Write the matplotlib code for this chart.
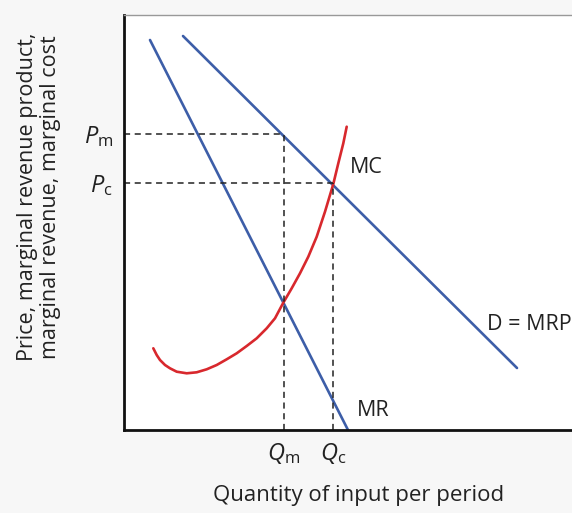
"""Monopsony-style input market: MRP, MR, MC with Pm/Pc and Qm/Qc guides."""

import matplotlib

matplotlib.use("Agg")
import matplotlib.pyplot as plt  # noqa: E402

# values (axis units: quantity right, price up)
mr_x = [26, 224]
mr_y = [390, 0]
d_x = [59, 393]
d_y = [394, 62]
mc_x = [29.3, 32.7, 36.0, 41.0, 46.0, 52.7, 62.7, 72.7, 82.7, 92.7, 102.7,
        112.7, 122.7, 132.7, 142.7, 151.0, 159.3, 167.7, 176.0, 184.3,
        192.7, 201.0, 209.3, 214.3, 219.3, 222.7]
mc_y = [81.7, 75.0, 70.0, 65.0, 61.7, 58.3, 56.7, 57.7, 60.7, 65.0, 70.7,
        76.7, 84.0, 91.7, 101.7, 111.7, 127.3, 141.7, 156.7, 173.3,
        193.3, 218.3, 246.0, 266.7, 286.7, 303.3]
p_m, p_c = 296, 247
q_m, q_c = 160, 209
y_ticks = [p_m, p_c]
y_labels = [r"$P_\mathrm{m}$", r"$P_\mathrm{c}$"]
x_ticks = [q_m, q_c]
x_labels = [r"$Q_\mathrm{m}$", r"$Q_\mathrm{c}$"]

BLUE = "#3d5ea8"
RED = "#d8282d"
FONT = "Open Sans"

plt.rcParams["font.family"] = [FONT, "DejaVu Sans"]
plt.rcParams["mathtext.fontset"] = "custom"
plt.rcParams["mathtext.rm"] = FONT
plt.rcParams["mathtext.it"] = f"{FONT}:italic"

fig = plt.figure(figsize=(5.72, 5.13), dpi=100, facecolor="#f7f7f7")
ax = fig.add_axes([124 / 572, 83 / 513, 1 - 124 / 572, 415 / 513])
ax.set_facecolor("white")
ax.set_xlim(0, 448)
ax.set_ylim(0, 415)

ax.plot(mr_x, mr_y, color=BLUE, lw=1.9, solid_capstyle="round")
ax.plot(d_x, d_y, color=BLUE, lw=1.9, solid_capstyle="round")
ax.plot(mc_x, mc_y, color=RED, lw=1.9, solid_capstyle="round",
        solid_joinstyle="round")

dash = dict(color="#222222", lw=1.1, ls=(0, (4, 3)))
ax.plot([0, q_m], [p_m, p_m], **dash)
ax.plot([q_m, q_m], [0, p_m], **dash)
ax.plot([0, q_c], [p_c, p_c], **dash)
ax.plot([q_c, q_c], [0, p_c], **dash)

ax.text(226, 262, "MC", fontsize=15.5, va="center", ha="left", color="#222222")
ax.text(363, 106, "D = MRP", fontsize=15.5, va="center", ha="left", color="#222222")
ax.text(233, 19, "MR", fontsize=15.5, va="center", ha="left", color="#222222")

ax.set_yticks(y_ticks)
ax.set_yticklabels(y_labels, fontsize=17)
ax.set_xticks(x_ticks)
ax.set_xticklabels(x_labels, fontsize=17)
ax.tick_params(length=0, pad=8, labelcolor="#222222")

for side in ("left", "bottom"):
    ax.spines[side].set_linewidth(2)
    ax.spines[side].set_color("#111111")
ax.spines["top"].set_color("#999999")
ax.spines["top"].set_linewidth(1)
ax.spines["right"].set_visible(False)

fig.text(359 / 572, 1 - 496 / 513, "Quantity of input per period",
         fontsize=16, ha="center", va="center", color="#222222")
fig.text(39 / 572, 1 - 197 / 513,
         "Price, marginal revenue product,\nmarginal revenue, marginal cost",
         fontsize=15.5, ha="center", va="center", rotation=90,
         linespacing=1.15, color="#222222")

fig.savefig("out.png", dpi=100, facecolor=fig.get_facecolor())
